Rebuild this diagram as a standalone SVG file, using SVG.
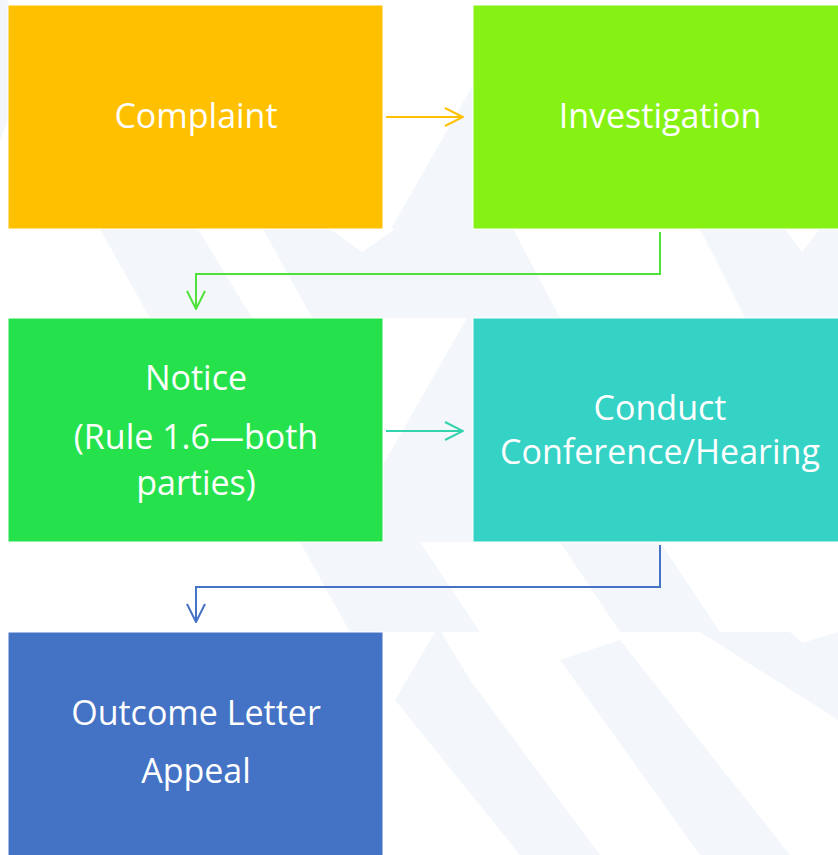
<svg xmlns="http://www.w3.org/2000/svg" width="838" height="855" viewBox="0 0 838 855">
<defs>
<style>
.lbl{font-family:"Open Sans","Liberation Sans",sans-serif;font-size:34px;fill:#ffffff;text-anchor:middle}
.box{stroke:#ffffff;stroke-width:1}
.wm{fill:#F3F6FA}
.conn{fill:none;stroke-width:2}
</style>
<marker id="ahO" viewBox="0 0 20 20" refX="19" refY="10" markerWidth="20" markerHeight="20" markerUnits="userSpaceOnUse" orient="auto"><path d="M1,1 L19,10 L1,19" fill="none" stroke="#FFC000" stroke-width="2"/></marker>
<marker id="ahG" viewBox="0 0 20 20" refX="19" refY="10" markerWidth="20" markerHeight="20" markerUnits="userSpaceOnUse" orient="auto"><path d="M1,1 L19,10 L1,19" fill="none" stroke="#4FE23A" stroke-width="2"/></marker>
<marker id="ahT" viewBox="0 0 20 20" refX="19" refY="10" markerWidth="20" markerHeight="20" markerUnits="userSpaceOnUse" orient="auto"><path d="M1,1 L19,10 L1,19" fill="none" stroke="#33D3AE" stroke-width="2"/></marker>
<marker id="ahB" viewBox="0 0 20 20" refX="19" refY="10" markerWidth="20" markerHeight="20" markerUnits="userSpaceOnUse" orient="auto"><path d="M1,1 L19,10 L1,19" fill="none" stroke="#4472C4" stroke-width="2"/></marker>
</defs>
<rect width="838" height="855" fill="#ffffff"/>
<g id="watermark">
<polygon class="wm" points="0,0 8,0 8,120 0,140"/>
<polygon class="wm" points="100,229 198,229 252,318 150,318"/>
<polygon class="wm" points="263,229 330,229 362,252 395,229 513,229 560,318 312,318"/>
<polygon class="wm" points="700,229 785,229 802,252 820,229 838,229 838,318 745,318"/>
<polygon class="wm" points="473,85 473,229 391,229"/>
<polygon class="wm" points="467,318 473,318 473,542 383,542 383,465"/>
<polygon class="wm" points="300,542 420,542 480,632 350,632"/>
<polygon class="wm" points="560,542 660,542 720,632 620,632"/>
<polygon class="wm" points="395,700 438,627 470,680 600,855 520,855"/>
<polygon class="wm" points="560,660 620,640 790,855 700,855"/>
<polygon class="wm" points="700,632 790,632 802,643 838,632 838,720"/>
</g>
<g id="connectors">
<path class="conn" stroke="#FFC000" d="M386,117 H463" marker-end="url(#ahO)"/>
<path class="conn" stroke="#4FE23A" d="M660,232 V274 H196 V309" marker-end="url(#ahG)"/>
<path class="conn" stroke="#33D3AE" d="M386,431 H463" marker-end="url(#ahT)"/>
<path class="conn" stroke="#4472C4" d="M660,545 V587 H196 V622" marker-end="url(#ahB)"/>
</g>
<g id="complaint">
<rect class="box" x="8" y="5" width="375" height="224" fill="#FFC000"/>
<text class="lbl" x="196" y="128">Complaint</text>
</g>
<g id="investigation">
<rect class="box" x="473" y="5" width="380" height="224" fill="#86F214"/>
<text class="lbl" x="660" y="128">Investigation</text>
</g>
<g id="notice">
<rect class="box" x="8" y="318" width="375" height="224" fill="#25E24C"/>
<text class="lbl" x="196" y="390">Notice</text>
<text class="lbl" x="196" y="449">(Rule 1.6—both</text>
<text class="lbl" x="196" y="495">parties)</text>
</g>
<g id="conduct">
<rect class="box" x="473" y="318" width="380" height="224" fill="#35D2C6"/>
<text class="lbl" x="660" y="420">Conduct</text>
<text class="lbl" x="660" y="464">Conference/Hearing</text>
</g>
<g id="outcome">
<rect class="box" x="8" y="632" width="375" height="240" fill="#4472C4"/>
<text class="lbl" x="196" y="725">Outcome Letter</text>
<text class="lbl" x="196" y="783">Appeal</text>
</g>
</svg>
